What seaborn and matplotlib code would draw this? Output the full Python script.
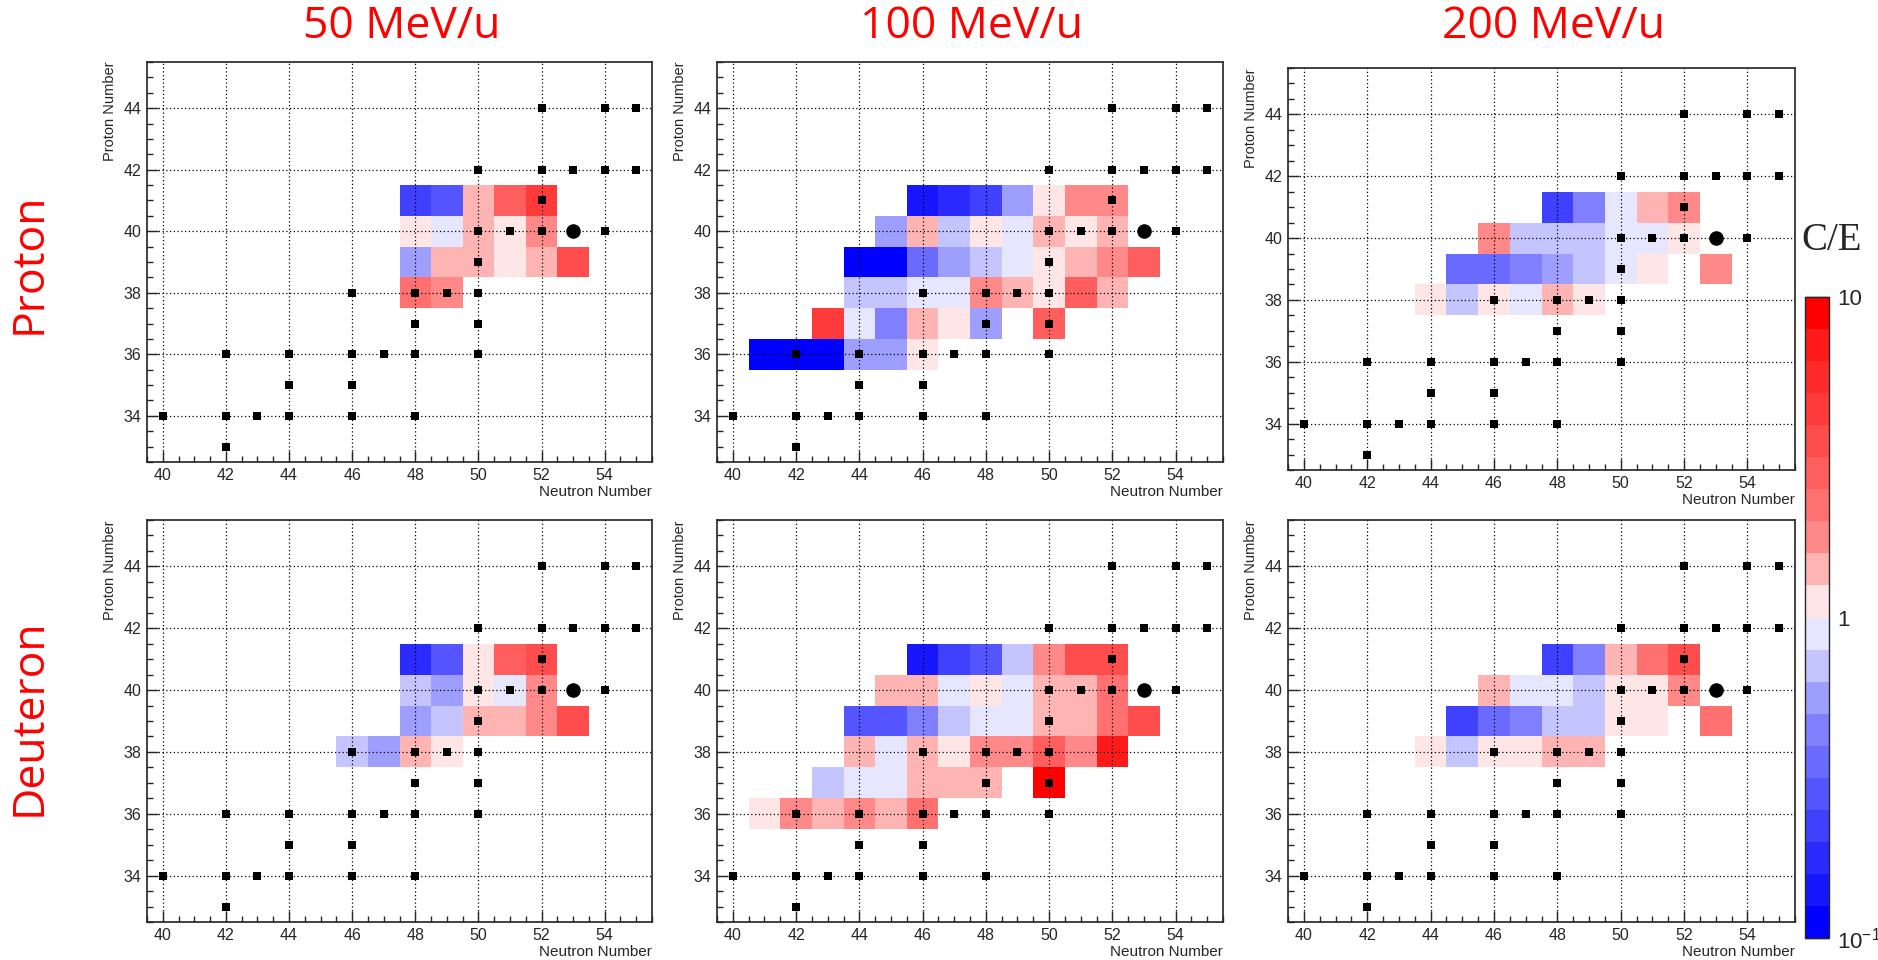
import numpy as np
import pandas as pd
import matplotlib as mpl
mpl.use('Agg')
import matplotlib.pyplot as plt
import seaborn as sns
from matplotlib.colors import ListedColormap, LogNorm
from matplotlib.ticker import MultipleLocator, FixedLocator, NullFormatter

_ = np.nan

# cell grid: columns are neutron numbers, rows are proton numbers (top to bottom)
neutrons = list(range(41, 54))
protons = [41, 40, 39, 38, 37, 36]

# C/E values, proton induced
ce_p50 = [
    [_, _, _, _, _, _, _, 0.22, 0.28, 1.4, 2.8, 4.5, _],
    [_, _, _, _, _, _, _, 1.12, 0.89, 1.4, 1.12, 1.8, _],
    [_, _, _, _, _, _, _, 0.56, 1.4, 1.4, 1.12, 1.4, 3.5],
    [_, _, _, _, _, _, _, 2.2, 1.8, _, _, _, _],
    [_, _, _, _, _, _, _, _, _, _, _, _, _],
    [_, _, _, _, _, _, _, _, _, _, _, _, _],
]
ce_p100 = [
    [_, _, _, _, _, 0.14, 0.18, 0.22, 0.56, 1.12, 1.8, 1.8, _],
    [_, _, _, _, 0.56, 1.4, 0.71, 1.12, 0.89, 1.4, 1.12, 1.4, _],
    [_, _, _, 0.11, 0.11, 0.35, 0.56, 0.71, 0.89, 1.12, 1.4, 1.8, 2.8],
    [_, _, _, 0.71, 0.71, 0.89, 0.89, 1.8, 1.4, 1.12, 2.8, 1.4, _],
    [_, _, 4.5, 0.89, 0.45, 1.4, 1.12, 0.56, _, 2.8, _, _, _],
    [0.11, 0.11, 0.11, 0.56, 0.56, 1.12, _, _, _, _, _, _, _],
]
ce_p200 = [
    [_, _, _, _, _, _, _, 0.22, 0.45, 0.89, 1.4, 1.8, _],
    [_, _, _, _, _, 1.8, 0.71, 0.71, 0.71, 0.89, 0.89, 1.12, _],
    [_, _, _, _, 0.35, 0.35, 0.45, 0.56, 0.71, 0.89, 1.12, _, 1.8],
    [_, _, _, 1.12, 0.71, 1.12, 0.89, 1.4, 1.12, _, _, _, _],
    [_, _, _, _, _, _, _, _, _, _, _, _, _],
    [_, _, _, _, _, _, _, _, _, _, _, _, _],
]

# C/E values, deuteron induced
ce_d50 = [
    [_, _, _, _, _, _, _, 0.18, 0.28, 1.12, 2.8, 3.5, _],
    [_, _, _, _, _, _, _, 0.71, 0.56, 1.12, 0.89, 1.8, _],
    [_, _, _, _, _, _, _, 0.56, 0.71, 1.4, 1.4, 1.8, 3.5],
    [_, _, _, _, _, 0.71, 0.56, 1.4, 1.12, _, _, _, _],
    [_, _, _, _, _, _, _, _, _, _, _, _, _],
    [_, _, _, _, _, _, _, _, _, _, _, _, _],
]
ce_d100 = [
    [_, _, _, _, _, 0.14, 0.22, 0.28, 0.71, 1.8, 3.5, 3.5, _],
    [_, _, _, _, 1.4, 1.4, 0.89, 1.12, 0.89, 1.4, 1.4, 2.2, _],
    [_, _, _, 0.28, 0.28, 0.45, 0.71, 0.89, 0.89, 1.4, 1.4, 2.2, 3.5],
    [_, _, _, 1.4, 0.89, 1.4, 1.12, 1.8, 1.8, 2.8, 1.8, 7.1, _],
    [_, _, 0.71, 0.89, 0.89, 1.4, 1.4, 1.4, _, 8.9, _, _, _],
    [1.12, 1.8, 1.4, 1.8, 1.4, 2.2, _, _, _, _, _, _, _],
]
ce_d200 = [
    [_, _, _, _, _, _, _, 0.22, 0.45, 1.4, 2.2, 3.5, _],
    [_, _, _, _, _, 1.4, 0.89, 0.89, 0.71, 1.12, 1.12, 1.8, _],
    [_, _, _, _, 0.22, 0.35, 0.45, 0.71, 0.71, 1.12, 1.12, _, 2.2],
    [_, _, _, 1.12, 0.71, 1.12, 1.12, 1.4, 1.4, _, _, _, _],
    [_, _, _, _, _, _, _, _, _, _, _, _, _],
    [_, _, _, _, _, _, _, _, _, _, _, _, _],
]

energies = ['50 MeV/u', '100 MeV/u', '200 MeV/u']
particles = ['Proton', 'Deuteron']

# isotopes with measured data (black squares) and the projectile nucleus
known_N = [52, 54, 55, 50, 52, 53, 54, 55, 52, 50, 51, 52, 54, 50, 46, 48, 49, 50,
           48, 50, 42, 44, 46, 47, 48, 50, 44, 46, 40, 42, 43, 44, 46, 48, 42]
known_Z = [44, 44, 44, 42, 42, 42, 42, 42, 41, 40, 40, 40, 40, 39, 38, 38, 38, 38,
           37, 37, 36, 36, 36, 36, 36, 36, 35, 35, 34, 34, 34, 34, 34, 34, 33]
proj_N = [53]
proj_Z = [40]

palette = ['#0000FF', '#1616FF', '#2B2BFF', '#4040FF', '#5555FF', '#6A6AFF', '#8080FF',
           '#9E9EFF', '#C4C4FF', '#E6E6FF', '#FFE6E6', '#FFB4B4', '#FF8888', '#FF7070',
           '#FF5E5E', '#FF4C4C', '#FF3A3A', '#FF2A2A', '#FF1A1A', '#FF0000']

sns.set_style('ticks')
plt.rcParams['font.family'] = ['Liberation Sans', 'DejaVu Sans']
plt.rcParams['mathtext.default'] = 'regular'

cmap = ListedColormap(palette)
norm = LogNorm(vmin=0.1, vmax=10)

W, H = 1878, 960
fig = plt.figure(figsize=(W / 100, H / 100), dpi=100)

# axes boxes in pixels: left, top, right, bottom
boxes = [
    [(147, 62, 652, 462), (717, 62, 1223, 462), (1288, 68, 1795, 470)],
    [(147, 520, 652, 922), (717, 520, 1223, 922), (1288, 520, 1795, 922)],
]
grids = [[ce_p50, ce_p100, ce_p200], [ce_d50, ce_d100, ce_d200]]

n_edges = np.append(np.array(neutrons) - 0.5, neutrons[-1] + 0.5)
z_edges = np.append(np.array(protons) + 0.5, protons[-1] - 0.5)
dots = pd.DataFrame({'N': known_N, 'Z': known_Z})
proj = pd.DataFrame({'N': proj_N, 'Z': proj_Z})

for r in range(2):
    for c in range(3):
        x0, y0, x1, y1 = boxes[r][c]
        ax = fig.add_axes([x0 / W, 1 - y1 / H, (x1 - x0) / W, (y1 - y0) / H])
        vals = np.ma.masked_invalid(np.array(grids[r][c], dtype=float))
        mesh = ax.pcolormesh(n_edges, z_edges, vals, cmap=cmap, norm=norm,
                             edgecolors='none', zorder=1)
        sns.scatterplot(data=dots, x='N', y='Z', marker='s', color='black', s=26,
                        linewidth=0, ax=ax, legend=False, zorder=4)
        sns.scatterplot(data=proj, x='N', y='Z', marker='o', color='black', s=110,
                        linewidth=0, ax=ax, legend=False, zorder=4)
        ax.set_xlim(39.5, 55.5)
        ax.set_ylim(32.5, 45.5)
        ax.xaxis.set_major_locator(MultipleLocator(2))
        ax.xaxis.set_minor_locator(MultipleLocator(0.5))
        ax.yaxis.set_major_locator(MultipleLocator(2))
        ax.yaxis.set_minor_locator(MultipleLocator(0.5))
        ax.set_axisbelow(False)
        ax.grid(which='major', color='black', linestyle=(0, (1, 2)), linewidth=0.9)
        ax.tick_params(which='major', direction='in', length=8, width=1,
                       labelsize=11.5, top=False, right=False, pad=4)
        ax.tick_params(which='minor', direction='in', length=4, width=1,
                       top=False, right=False)
        for sp in ax.spines.values():
            sp.set_linewidth(1.3)
            sp.set_color('#333333')
        ax.set_xlabel('')
        ax.set_ylabel('')
        ax.text(1.0, -0.075, 'Neutron Number', transform=ax.transAxes,
                ha='right', va='center', fontsize=11)
        ax.text(-0.073, 1.0, 'Proton Number', transform=ax.transAxes, rotation=90,
                ha='center', va='top', fontsize=10.5)

# column and row titles
title_x = [402, 972, 1554]
for c in range(3):
    fig.text(title_x[c] / W, 1 - 27 / H, energies[c], color='red', fontsize=32,
             family='Open Sans', ha='center', va='center')
row_y = [263, 717]
for r in range(2):
    fig.text(29 / W, 1 - row_y[r] / H, particles[r], color='red', fontsize=32,
             family='Open Sans', rotation=90, ha='center', va='center')

# colour scale
cax = fig.add_axes([1805 / W, 1 - 938 / H, 24 / W, 641 / H])
cb = fig.colorbar(mesh, cax=cax)
cb.outline.set_linewidth(1)
cax.yaxis.set_major_locator(FixedLocator([0.1, 1, 10]))
cax.set_yticklabels(['$10^{-1}$', '1', '10'])
cax.yaxis.set_minor_locator(FixedLocator([0.2, 0.3, 0.4, 0.5, 0.6, 0.7, 0.8, 0.9,
                                          2, 3, 4, 5, 6, 7, 8, 9]))
cax.yaxis.set_minor_formatter(NullFormatter())
cax.tick_params(which='major', direction='in', length=17, width=1, labelsize=16,
                right=True, left=False, pad=6)
cax.tick_params(which='minor', direction='in', length=10, width=1,
                right=True, left=False)
fig.text(1832 / W, 1 - 240 / H, 'C/E', fontsize=28, family='Liberation Serif',
         ha='center', va='center')

fig.savefig('out.png', dpi=100)
